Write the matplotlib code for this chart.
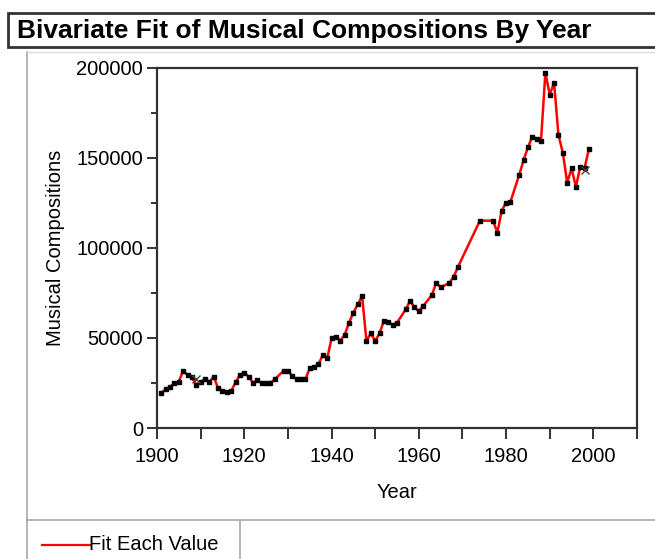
import matplotlib
matplotlib.use("Agg")
import matplotlib.pyplot as plt
from matplotlib.lines import Line2D
from matplotlib.patches import Rectangle
from matplotlib.ticker import MultipleLocator, FixedLocator

plt.rcParams["font.family"] = ["Liberation Sans", "DejaVu Sans"]

# Musical compositions per year (one observation per plotted year)
years = [1901, 1902, 1903, 1904, 1905, 1906, 1907, 1908, 1909, 1910,
         1911, 1912, 1913, 1914, 1915, 1916, 1917, 1918, 1919, 1920,
         1921, 1922, 1923, 1924, 1925, 1926, 1927, 1929, 1930, 1931,
         1932, 1933, 1934, 1935, 1936, 1937, 1938, 1939, 1940, 1941,
         1942, 1943, 1944, 1945, 1946, 1947, 1948, 1949, 1950, 1951,
         1952, 1953, 1954, 1955, 1957, 1958, 1959, 1960, 1961, 1963,
         1964, 1965, 1967, 1968, 1969, 1974, 1977, 1978, 1979, 1980,
         1981, 1983, 1984, 1985, 1986, 1987, 1988, 1989, 1990, 1991,
         1992, 1993, 1994, 1995, 1996, 1997, 1998, 1999]
compositions = [19600, 21500, 22900, 24800, 25700, 31800, 29400, 28100, 23900, 25700,
                27000, 25700, 28500, 22000, 20500, 20200, 20500, 25300, 29400, 30700,
                28500, 25100, 26600, 24800, 25100, 25100, 27000, 31800, 31800, 28800,
                27000, 27000, 27000, 33100, 34000, 35300, 40500, 38600, 49700, 50700,
                48500, 51600, 58400, 64000, 68600, 73200, 48300, 52500, 48300, 52500,
                59500, 59000, 57100, 58400, 65800, 70600, 66900, 64900, 67700, 73800,
                80600, 78000, 80500, 84000, 89500, 115000, 115000, 108400, 120600, 125000,
                125500, 140400, 148500, 155700, 161600, 160500, 159400, 197000, 185000, 191500,
                162500, 152800, 136100, 144000, 133900, 145000, 144300, 155000]

# Rows excluded from the fit
excluded_years = [1909, 1998]
excluded_values = [27000, 143000]

title_text = "Bivariate Fit of Musical Compositions By Year"
x_label = "Year"
y_label = "Musical Compositions"
legend_label = "Fit Each Value"
x_tick_values = [1900, 1920, 1940, 1960, 1980, 2000]
y_tick_values = [0, 50000, 100000, 150000, 200000]

W, H = 655, 559
fig = plt.figure(figsize=(W / 100, H / 100), dpi=100)
fig.patch.set_facecolor("white")


def fx(px):
    return px / W


def fy(py):
    return 1 - py / H


# Report title bar
fig.add_artist(Rectangle((fx(8), fy(47)), fx(660) - fx(8), fy(13) - fy(47),
                         transform=fig.transFigure, facecolor="white",
                         edgecolor="#333333", linewidth=2.0))
fig.text(fx(17), fy(31), title_text, fontsize=19, fontweight="bold",
         ha="left", va="center", color="black")

# Outline of the report panel and legend box
panel = "#a8a8a8"
fig.add_artist(Line2D([fx(27), fx(27)], [fy(52), fy(559)], transform=fig.transFigure,
                      color=panel, lw=1.2))
fig.add_artist(Line2D([fx(27), fx(655)], [fy(52), fy(52)], transform=fig.transFigure,
                      color="#dddddd", lw=1.0))
fig.add_artist(Line2D([fx(27), fx(655)], [fy(520), fy(520)], transform=fig.transFigure,
                      color=panel, lw=1.2))
fig.add_artist(Line2D([fx(240), fx(240)], [fy(520), fy(559)], transform=fig.transFigure,
                      color=panel, lw=1.2))

# Legend entry
fig.add_artist(Line2D([fx(42), fx(90)], [fy(545), fy(545)], transform=fig.transFigure,
                      color="red", lw=1.6))
fig.text(fx(89), fy(545), legend_label, fontsize=14.5, ha="left", va="center")

# Plot area
ax = fig.add_axes([fx(157), fy(428), fx(637) - fx(157), fy(67.5) - fy(428)])
ax.set_xlim(1900, 2010)
ax.set_ylim(0, 200000)

ax.plot(years, compositions, color="red", lw=1.8, zorder=2)
ax.plot(years, compositions, "s", color="black", ms=2.4, zorder=3)
ax.plot(excluded_years, excluded_values, "x", color="#444444", ms=6, mew=1.0, zorder=3)

for side in ["left", "bottom", "top", "right"]:
    ax.spines[side].set_color("#333333")
    ax.spines[side].set_linewidth(1.6)

ax.xaxis.set_major_locator(FixedLocator(x_tick_values))
ax.xaxis.set_minor_locator(MultipleLocator(10))
ax.set_xticklabels([str(v) for v in x_tick_values])
ax.yaxis.set_major_locator(FixedLocator(y_tick_values))
ax.yaxis.set_minor_locator(MultipleLocator(25000))
ax.set_yticklabels([str(v) for v in y_tick_values])

ax.tick_params(axis="both", which="both", direction="out", color="#333333",
               width=1.4, labelsize=14.5, labelcolor="black")
ax.tick_params(axis="x", which="both", length=8, pad=6)
ax.tick_params(axis="y", which="major", length=7, pad=3)
ax.tick_params(axis="y", which="minor", length=4)

ax.set_xlabel(x_label, fontsize=14.5, labelpad=12)
ax.set_ylabel(y_label, fontsize=14.5, labelpad=8)

fig.savefig("out.png", dpi=100)
